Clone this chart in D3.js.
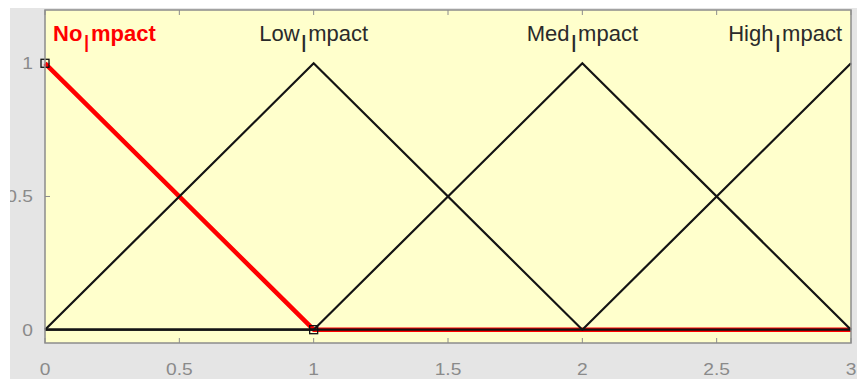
<!DOCTYPE html>
<html>
<head>
<meta charset="utf-8">
<script src="https://cdn.jsdelivr.net/npm/d3@7"></script>
<style>
  html, body { margin: 0; padding: 0; background: #fff; }
  svg { display: block; }
</style>
</head>
<body>
<div id="chart"></div>
<script>
// membership functions of the input variable (x, degree)
var mfNames = ["No_Impact", "Low_Impact", "Med_Impact", "High_Impact"];
var noImpact   = [[0, 1], [1, 0], [3, 0]];
var lowImpact  = [[0, 0], [1, 1], [2, 0], [3, 0]];
var medImpact  = [[0, 0], [1, 0], [2, 1], [3, 0]];
var highImpact = [[0, 0], [2, 0], [3, 1]];
var mfSeries = [noImpact, lowImpact, medImpact, highImpact];
var mfPeaks = [0, 1, 2, 3];
var selectedMf = 0;            // highlighted one (red, with square handles)
var selectedHandles = [[0, 1], [1, 0]];

var xTicks = [0, 0.5, 1, 1.5, 2, 2.5, 3];
var yTicks = [0, 0.5, 1];
var xDomain = [0, 3];
var yDomain = [-0.05, 1.2];

var W = 857, H = 379;
var margin = {top: 10, right: 6, bottom: 36, left: 45};

var svg = d3.select("#chart").append("svg")
  .attr("width", W).attr("height", H);

// figure background (window starts a bit inside the picture)
svg.append("rect").attr("x", 10).attr("y", 8)
  .attr("width", W - 10).attr("height", H - 8).attr("fill", "#e5e5e5");

svg.append("clipPath").attr("id", "figclip")
  .append("rect").attr("x", 10).attr("y", 8).attr("width", W - 10).attr("height", H - 8);

var x = d3.scaleLinear().domain(xDomain).range([margin.left, W - margin.right]);
var y = d3.scaleLinear().domain(yDomain).range([H - margin.bottom, margin.top]);

// axes box
svg.append("rect")
  .attr("x", x(xDomain[0])).attr("y", y(yDomain[1]))
  .attr("width", x(xDomain[1]) - x(xDomain[0]))
  .attr("height", y(yDomain[0]) - y(yDomain[1]))
  .attr("fill", "#ffffcc");

var fig = svg.append("g").attr("clip-path", "url(#figclip)");

// tick labels
var tickColor = "#8a8a8a";
fig.selectAll("text.xt").data(xTicks).enter().append("text")
  .attr("class", "xt")
  .attr("transform", function(d){ return "translate(" + x(d) + ",375) scale(1.2,1)"; })
  .attr("text-anchor", "middle")
  .attr("font-family", "Liberation Sans, Arial, sans-serif")
  .attr("font-size", 16).attr("fill", tickColor)
  .text(function(d){ return d; });

fig.selectAll("text.yt").data(yTicks).enter().append("text")
  .attr("class", "yt")
  .attr("transform", function(d){ return "translate(33," + (y(d) + 6) + ") scale(1.2,1)"; })
  .attr("text-anchor", "end")
  .attr("font-family", "Liberation Sans, Arial, sans-serif")
  .attr("font-size", 16).attr("fill", tickColor)
  .text(function(d){ return d; });

// inward ticks
var tl = 5;
var ticks = svg.append("g").attr("stroke", "#8c8c8c").attr("stroke-width", 1);
xTicks.forEach(function(d){
  ticks.append("line").attr("x1", x(d)).attr("x2", x(d))
    .attr("y1", y(yDomain[0])).attr("y2", y(yDomain[0]) - tl);
  ticks.append("line").attr("x1", x(d)).attr("x2", x(d))
    .attr("y1", y(yDomain[1])).attr("y2", y(yDomain[1]) + tl);
});
yTicks.forEach(function(d){
  ticks.append("line").attr("x1", x(xDomain[0])).attr("x2", x(xDomain[0]) + tl)
    .attr("y1", y(d)).attr("y2", y(d));
});

var line = d3.line().x(function(d){ return x(d[0]); }).y(function(d){ return y(d[1]); });

// selected MF below, the others on top
svg.append("path").datum(mfSeries[selectedMf])
  .attr("d", line).attr("fill", "none")
  .attr("stroke", "#ff0000").attr("stroke-width", 4.5)
  .attr("stroke-linejoin", "round");

mfSeries.forEach(function(s, i){
  if (i === selectedMf) return;
  svg.append("path").datum(s)
    .attr("d", line).attr("fill", "none")
    .attr("stroke", "#141414").attr("stroke-width", 2.2)
    .attr("stroke-linejoin", "miter");
});

// square handles of the selected MF
svg.selectAll("rect.handle").data(selectedHandles).enter().append("rect")
  .attr("class", "handle")
  .attr("x", function(d){ return x(d[0]) - 4; })
  .attr("y", function(d){ return y(d[1]) - 4; })
  .attr("width", 8).attr("height", 8)
  .attr("fill", "none").attr("stroke", "#111").attr("stroke-width", 1.3);

// axes border
svg.append("rect")
  .attr("x", x(xDomain[0])).attr("y", y(yDomain[1]))
  .attr("width", x(xDomain[1]) - x(xDomain[0]))
  .attr("height", y(yDomain[0]) - y(yDomain[1]))
  .attr("fill", "none").attr("stroke", "#8c8c8c").attr("stroke-width", 1.5);

// MF names, TeX style: "_I" becomes a subscript
var labelY = 41;
mfNames.forEach(function(name, i){
  var parts = name.split("_");
  var anchor = "middle", px = x(mfPeaks[i]);
  if (i === 0) { anchor = "start"; px = x(mfPeaks[i]) + 8; }
  if (i === mfNames.length - 1) { anchor = "end"; px = x(mfPeaks[i]) - 9; }
  var t = svg.append("text")
    .attr("x", px).attr("y", labelY)
    .attr("text-anchor", anchor)
    .attr("font-family", "Liberation Sans, Arial, sans-serif")
    .attr("font-size", 22)
    .attr("font-weight", i === selectedMf ? "bold" : "normal")
    .attr("fill", i === selectedMf ? "#ff0000" : "#2a2a2a");
  t.append("tspan").text(parts[0]);
  t.append("tspan").attr("dy", 11).attr("dx", 1).attr("font-size", 24)
    .attr("font-weight", "normal").text(parts[1].charAt(0));
  t.append("tspan").attr("dy", -11).attr("dx", 1).text(parts[1].slice(1));
});
</script>
</body>
</html>
